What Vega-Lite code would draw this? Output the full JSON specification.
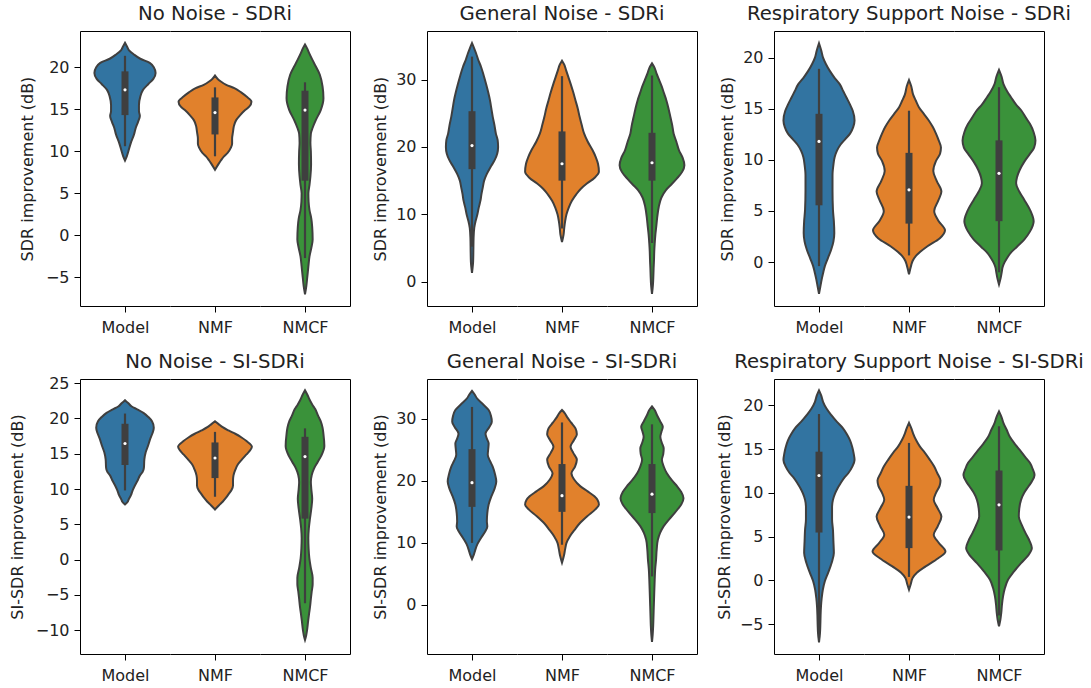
{
"$schema":"https://vega.github.io/schema/vega-lite/v6.json",
"usermeta":{"embedOptions":{"actions":false}},
"padding":{"left":9,"top":4,"right":5,"bottom":5},
"config":{
 "view":{"stroke":null},
 "font":"DejaVu Sans",
 "axis":{"grid":false,"domainColor":"#000","domainWidth":1,"tickColor":"#000","tickWidth":1,"tickSize":6,"labelFont":"DejaVu Sans","labelFontSize":16,"labelColor":"#222","labelPadding":5,"titleFont":"DejaVu Sans","titleFontSize":16,"titleFontWeight":"normal","titleColor":"#222","titlePadding":7},
 "title":{"font":"DejaVu Sans","fontSize":19.7,"fontWeight":"normal","color":"#222","anchor":"middle","frame":"group","offset":7}
},
"data":{"values":[
{"p":"a","m":"Model","v":22.9,"w":0},{"p":"a","m":"Model","v":22.4,"w":0.05},{"p":"a","m":"Model","v":22.0,"w":0.09},{"p":"a","m":"Model","v":21.5,"w":0.2},{"p":"a","m":"Model","v":21.0,"w":0.34},{"p":"a","m":"Model","v":20.5,"w":0.55},{"p":"a","m":"Model","v":20.0,"w":0.64},{"p":"a","m":"Model","v":19.3,"w":0.68},{"p":"a","m":"Model","v":18.6,"w":0.63},{"p":"a","m":"Model","v":18.0,"w":0.52},{"p":"a","m":"Model","v":17.3,"w":0.40},{"p":"a","m":"Model","v":16.5,"w":0.34},{"p":"a","m":"Model","v":15.5,"w":0.31},{"p":"a","m":"Model","v":14.8,"w":0.31},{"p":"a","m":"Model","v":14.2,"w":0.33},{"p":"a","m":"Model","v":13.5,"w":0.29},{"p":"a","m":"Model","v":12.8,"w":0.24},{"p":"a","m":"Model","v":12.0,"w":0.20},{"p":"a","m":"Model","v":11.0,"w":0.13},{"p":"a","m":"Model","v":10.0,"w":0.075},{"p":"a","m":"Model","v":9.4,"w":0.04},{"p":"a","m":"Model","v":8.9,"w":0},
{"p":"a","m":"NMF","v":19.0,"w":0},{"p":"a","m":"NMF","v":18.6,"w":0.06},{"p":"a","m":"NMF","v":18.3,"w":0.13},{"p":"a","m":"NMF","v":17.9,"w":0.25},{"p":"a","m":"NMF","v":17.5,"w":0.43},{"p":"a","m":"NMF","v":17.0,"w":0.58},{"p":"a","m":"NMF","v":16.5,"w":0.70},{"p":"a","m":"NMF","v":15.9,"w":0.81},{"p":"a","m":"NMF","v":15.3,"w":0.76},{"p":"a","m":"NMF","v":14.9,"w":0.67},{"p":"a","m":"NMF","v":14.3,"w":0.56},{"p":"a","m":"NMF","v":13.7,"w":0.47},{"p":"a","m":"NMF","v":13.0,"w":0.42},{"p":"a","m":"NMF","v":12.3,"w":0.40},{"p":"a","m":"NMF","v":11.5,"w":0.38},{"p":"a","m":"NMF","v":10.9,"w":0.38},{"p":"a","m":"NMF","v":10.4,"w":0.35},{"p":"a","m":"NMF","v":9.8,"w":0.28},{"p":"a","m":"NMF","v":9.4,"w":0.20},{"p":"a","m":"NMF","v":8.9,"w":0.13},{"p":"a","m":"NMF","v":8.5,"w":0.08},{"p":"a","m":"NMF","v":7.8,"w":0},
{"p":"a","m":"NMCF","v":22.7,"w":0},{"p":"a","m":"NMCF","v":22.2,"w":0.05},{"p":"a","m":"NMCF","v":21.7,"w":0.09},{"p":"a","m":"NMCF","v":20.5,"w":0.20},{"p":"a","m":"NMCF","v":19.1,"w":0.33},{"p":"a","m":"NMCF","v":17.7,"w":0.39},{"p":"a","m":"NMCF","v":16.3,"w":0.41},{"p":"a","m":"NMCF","v":14.9,"w":0.35},{"p":"a","m":"NMCF","v":13.7,"w":0.24},{"p":"a","m":"NMCF","v":12.8,"w":0.17},{"p":"a","m":"NMCF","v":12.1,"w":0.13},{"p":"a","m":"NMCF","v":11.0,"w":0.12},{"p":"a","m":"NMCF","v":10.0,"w":0.13},{"p":"a","m":"NMCF","v":8.5,"w":0.135},{"p":"a","m":"NMCF","v":7.0,"w":0.12},{"p":"a","m":"NMCF","v":6.0,"w":0.10},{"p":"a","m":"NMCF","v":5.0,"w":0.075},{"p":"a","m":"NMCF","v":4.0,"w":0.08},{"p":"a","m":"NMCF","v":3.0,"w":0.10},{"p":"a","m":"NMCF","v":2.0,"w":0.14},{"p":"a","m":"NMCF","v":1.0,"w":0.16},{"p":"a","m":"NMCF","v":-0.5,"w":0.17},{"p":"a","m":"NMCF","v":-1.5,"w":0.14},{"p":"a","m":"NMCF","v":-2.5,"w":0.10},{"p":"a","m":"NMCF","v":-3.7,"w":0.075},{"p":"a","m":"NMCF","v":-5.0,"w":0.05},{"p":"a","m":"NMCF","v":-6.0,"w":0.03},{"p":"a","m":"NMCF","v":-7.0,"w":0},
{"p":"b","m":"Model","v":35.4,"w":0},{"p":"b","m":"Model","v":34.6,"w":0.05},{"p":"b","m":"Model","v":33.9,"w":0.09},{"p":"b","m":"Model","v":32.9,"w":0.14},{"p":"b","m":"Model","v":31.9,"w":0.20},{"p":"b","m":"Model","v":30.6,"w":0.26},{"p":"b","m":"Model","v":29.4,"w":0.31},{"p":"b","m":"Model","v":28.1,"w":0.36},{"p":"b","m":"Model","v":26.9,"w":0.40},{"p":"b","m":"Model","v":25.7,"w":0.43},{"p":"b","m":"Model","v":24.5,"w":0.46},{"p":"b","m":"Model","v":23.2,"w":0.50},{"p":"b","m":"Model","v":22.0,"w":0.53},{"p":"b","m":"Model","v":21.0,"w":0.57},{"p":"b","m":"Model","v":20.0,"w":0.58},{"p":"b","m":"Model","v":19.0,"w":0.56},{"p":"b","m":"Model","v":18.0,"w":0.50},{"p":"b","m":"Model","v":17.0,"w":0.41},{"p":"b","m":"Model","v":16.0,"w":0.33},{"p":"b","m":"Model","v":15.0,"w":0.27},{"p":"b","m":"Model","v":14.0,"w":0.24},{"p":"b","m":"Model","v":13.0,"w":0.21},{"p":"b","m":"Model","v":12.1,"w":0.19},{"p":"b","m":"Model","v":11.0,"w":0.15},{"p":"b","m":"Model","v":10.0,"w":0.12},{"p":"b","m":"Model","v":9.0,"w":0.08},{"p":"b","m":"Model","v":8.0,"w":0.05},{"p":"b","m":"Model","v":6.5,"w":0.035},{"p":"b","m":"Model","v":4.5,"w":0.03},{"p":"b","m":"Model","v":3.0,"w":0.025},{"p":"b","m":"Model","v":1.3,"w":0},
{"p":"b","m":"NMF","v":32.8,"w":0},{"p":"b","m":"NMF","v":32.2,"w":0.05},{"p":"b","m":"NMF","v":31.4,"w":0.09},{"p":"b","m":"NMF","v":30.4,"w":0.14},{"p":"b","m":"NMF","v":29.4,"w":0.19},{"p":"b","m":"NMF","v":28.1,"w":0.25},{"p":"b","m":"NMF","v":26.9,"w":0.30},{"p":"b","m":"NMF","v":25.7,"w":0.35},{"p":"b","m":"NMF","v":24.5,"w":0.39},{"p":"b","m":"NMF","v":23.2,"w":0.44},{"p":"b","m":"NMF","v":22.0,"w":0.49},{"p":"b","m":"NMF","v":20.8,"w":0.57},{"p":"b","m":"NMF","v":19.5,"w":0.68},{"p":"b","m":"NMF","v":18.5,"w":0.75},{"p":"b","m":"NMF","v":17.5,"w":0.80},{"p":"b","m":"NMF","v":16.3,"w":0.82},{"p":"b","m":"NMF","v":15.4,"w":0.72},{"p":"b","m":"NMF","v":14.6,"w":0.56},{"p":"b","m":"NMF","v":13.8,"w":0.42},{"p":"b","m":"NMF","v":13.0,"w":0.32},{"p":"b","m":"NMF","v":12.0,"w":0.22},{"p":"b","m":"NMF","v":11.0,"w":0.15},{"p":"b","m":"NMF","v":10.0,"w":0.10},{"p":"b","m":"NMF","v":9.0,"w":0.07},{"p":"b","m":"NMF","v":8.0,"w":0.05},{"p":"b","m":"NMF","v":7.0,"w":0.035},{"p":"b","m":"NMF","v":5.9,"w":0},
{"p":"b","m":"NMCF","v":32.4,"w":0},{"p":"b","m":"NMCF","v":31.7,"w":0.06},{"p":"b","m":"NMCF","v":30.9,"w":0.10},{"p":"b","m":"NMCF","v":29.9,"w":0.16},{"p":"b","m":"NMCF","v":28.9,"w":0.22},{"p":"b","m":"NMCF","v":27.9,"w":0.27},{"p":"b","m":"NMCF","v":26.9,"w":0.32},{"p":"b","m":"NMCF","v":25.6,"w":0.37},{"p":"b","m":"NMCF","v":24.4,"w":0.41},{"p":"b","m":"NMCF","v":23.2,"w":0.45},{"p":"b","m":"NMCF","v":22.0,"w":0.48},{"p":"b","m":"NMCF","v":20.8,"w":0.54},{"p":"b","m":"NMCF","v":19.5,"w":0.60},{"p":"b","m":"NMCF","v":18.4,"w":0.68},{"p":"b","m":"NMCF","v":17.3,"w":0.72},{"p":"b","m":"NMCF","v":16.3,"w":0.67},{"p":"b","m":"NMCF","v":15.3,"w":0.55},{"p":"b","m":"NMCF","v":14.5,"w":0.44},{"p":"b","m":"NMCF","v":13.6,"w":0.31},{"p":"b","m":"NMCF","v":12.5,"w":0.21},{"p":"b","m":"NMCF","v":11.1,"w":0.15},{"p":"b","m":"NMCF","v":9.5,"w":0.115},{"p":"b","m":"NMCF","v":8.2,"w":0.095},{"p":"b","m":"NMCF","v":7.0,"w":0.075},{"p":"b","m":"NMCF","v":5.7,"w":0.06},{"p":"b","m":"NMCF","v":4.5,"w":0.05},{"p":"b","m":"NMCF","v":3.2,"w":0.044},{"p":"b","m":"NMCF","v":2.0,"w":0.036},{"p":"b","m":"NMCF","v":0.8,"w":0.03},{"p":"b","m":"NMCF","v":-0.5,"w":0.02},{"p":"b","m":"NMCF","v":-1.8,"w":0},
{"p":"c","m":"Model","v":21.4,"w":0},{"p":"c","m":"Model","v":20.7,"w":0.05},{"p":"c","m":"Model","v":20.0,"w":0.09},{"p":"c","m":"Model","v":19.4,"w":0.15},{"p":"c","m":"Model","v":18.7,"w":0.24},{"p":"c","m":"Model","v":18.0,"w":0.35},{"p":"c","m":"Model","v":17.4,"w":0.46},{"p":"c","m":"Model","v":16.7,"w":0.54},{"p":"c","m":"Model","v":16.1,"w":0.61},{"p":"c","m":"Model","v":15.4,"w":0.69},{"p":"c","m":"Model","v":14.8,"w":0.75},{"p":"c","m":"Model","v":13.85,"w":0.79},{"p":"c","m":"Model","v":13.2,"w":0.76},{"p":"c","m":"Model","v":12.56,"w":0.69},{"p":"c","m":"Model","v":12.0,"w":0.58},{"p":"c","m":"Model","v":11.5,"w":0.48},{"p":"c","m":"Model","v":10.9,"w":0.40},{"p":"c","m":"Model","v":10.3,"w":0.35},{"p":"c","m":"Model","v":9.5,"w":0.32},{"p":"c","m":"Model","v":8.5,"w":0.30},{"p":"c","m":"Model","v":7.0,"w":0.30},{"p":"c","m":"Model","v":5.1,"w":0.31},{"p":"c","m":"Model","v":4.0,"w":0.33},{"p":"c","m":"Model","v":2.85,"w":0.34},{"p":"c","m":"Model","v":2.0,"w":0.32},{"p":"c","m":"Model","v":1.2,"w":0.27},{"p":"c","m":"Model","v":0.4,"w":0.20},{"p":"c","m":"Model","v":-0.4,"w":0.13},{"p":"c","m":"Model","v":-1.1,"w":0.09},{"p":"c","m":"Model","v":-1.7,"w":0.06},{"p":"c","m":"Model","v":-2.4,"w":0.03},{"p":"c","m":"Model","v":-3.1,"w":0},
{"p":"c","m":"NMF","v":17.8,"w":0},{"p":"c","m":"NMF","v":17.2,"w":0.05},{"p":"c","m":"NMF","v":16.4,"w":0.09},{"p":"c","m":"NMF","v":15.8,"w":0.15},{"p":"c","m":"NMF","v":15.15,"w":0.22},{"p":"c","m":"NMF","v":14.5,"w":0.33},{"p":"c","m":"NMF","v":13.85,"w":0.44},{"p":"c","m":"NMF","v":13.2,"w":0.53},{"p":"c","m":"NMF","v":12.56,"w":0.60},{"p":"c","m":"NMF","v":11.9,"w":0.66},{"p":"c","m":"NMF","v":11.2,"w":0.71},{"p":"c","m":"NMF","v":10.6,"w":0.69},{"p":"c","m":"NMF","v":9.9,"w":0.60},{"p":"c","m":"NMF","v":8.9,"w":0.54},{"p":"c","m":"NMF","v":7.9,"w":0.62},{"p":"c","m":"NMF","v":6.9,"w":0.72},{"p":"c","m":"NMF","v":6.0,"w":0.65},{"p":"c","m":"NMF","v":5.0,"w":0.56},{"p":"c","m":"NMF","v":4.0,"w":0.66},{"p":"c","m":"NMF","v":3.1,"w":0.80},{"p":"c","m":"NMF","v":2.3,"w":0.68},{"p":"c","m":"NMF","v":1.55,"w":0.41},{"p":"c","m":"NMF","v":1.0,"w":0.25},{"p":"c","m":"NMF","v":0.58,"w":0.15},{"p":"c","m":"NMF","v":0.1,"w":0.08},{"p":"c","m":"NMF","v":-0.3,"w":0.05},{"p":"c","m":"NMF","v":-1.2,"w":0},
{"p":"c","m":"NMCF","v":18.8,"w":0},{"p":"c","m":"NMCF","v":18.1,"w":0.06},{"p":"c","m":"NMCF","v":17.4,"w":0.10},{"p":"c","m":"NMCF","v":16.7,"w":0.18},{"p":"c","m":"NMCF","v":16.1,"w":0.27},{"p":"c","m":"NMCF","v":15.4,"w":0.38},{"p":"c","m":"NMCF","v":14.8,"w":0.50},{"p":"c","m":"NMCF","v":14.1,"w":0.60},{"p":"c","m":"NMCF","v":13.5,"w":0.69},{"p":"c","m":"NMCF","v":12.7,"w":0.77},{"p":"c","m":"NMCF","v":11.9,"w":0.81},{"p":"c","m":"NMCF","v":11.2,"w":0.78},{"p":"c","m":"NMCF","v":10.6,"w":0.69},{"p":"c","m":"NMCF","v":9.8,"w":0.56},{"p":"c","m":"NMCF","v":9.0,"w":0.46},{"p":"c","m":"NMCF","v":8.3,"w":0.40},{"p":"c","m":"NMCF","v":7.7,"w":0.38},{"p":"c","m":"NMCF","v":6.9,"w":0.45},{"p":"c","m":"NMCF","v":6.1,"w":0.56},{"p":"c","m":"NMCF","v":5.0,"w":0.70},{"p":"c","m":"NMCF","v":4.0,"w":0.77},{"p":"c","m":"NMCF","v":3.0,"w":0.69},{"p":"c","m":"NMCF","v":2.2,"w":0.56},{"p":"c","m":"NMCF","v":1.5,"w":0.40},{"p":"c","m":"NMCF","v":0.9,"w":0.26},{"p":"c","m":"NMCF","v":0.4,"w":0.18},{"p":"c","m":"NMCF","v":-0.06,"w":0.12},{"p":"c","m":"NMCF","v":-0.5,"w":0.08},{"p":"c","m":"NMCF","v":-1.0,"w":0.06},{"p":"c","m":"NMCF","v":-1.6,"w":0.035},{"p":"c","m":"NMCF","v":-2.2,"w":0},
{"p":"d","m":"Model","v":22.6,"w":0},{"p":"d","m":"Model","v":22.2,"w":0.07},{"p":"d","m":"Model","v":21.7,"w":0.15},{"p":"d","m":"Model","v":21.3,"w":0.27},{"p":"d","m":"Model","v":20.8,"w":0.41},{"p":"d","m":"Model","v":20.2,"w":0.52},{"p":"d","m":"Model","v":19.6,"w":0.60},{"p":"d","m":"Model","v":18.7,"w":0.64},{"p":"d","m":"Model","v":17.9,"w":0.61},{"p":"d","m":"Model","v":17.1,"w":0.56},{"p":"d","m":"Model","v":16.1,"w":0.51},{"p":"d","m":"Model","v":15.2,"w":0.46},{"p":"d","m":"Model","v":14.2,"w":0.43},{"p":"d","m":"Model","v":13.0,"w":0.42},{"p":"d","m":"Model","v":12.4,"w":0.39},{"p":"d","m":"Model","v":11.9,"w":0.33},{"p":"d","m":"Model","v":11.2,"w":0.28},{"p":"d","m":"Model","v":10.5,"w":0.22},{"p":"d","m":"Model","v":9.8,"w":0.17},{"p":"d","m":"Model","v":9.1,"w":0.13},{"p":"d","m":"Model","v":8.5,"w":0.08},{"p":"d","m":"Model","v":8.2,"w":0.06},{"p":"d","m":"Model","v":7.8,"w":0},
{"p":"d","m":"NMF","v":19.6,"w":0},{"p":"d","m":"NMF","v":19.2,"w":0.08},{"p":"d","m":"NMF","v":18.8,"w":0.16},{"p":"d","m":"NMF","v":18.3,"w":0.30},{"p":"d","m":"NMF","v":17.8,"w":0.46},{"p":"d","m":"NMF","v":17.3,"w":0.59},{"p":"d","m":"NMF","v":16.8,"w":0.70},{"p":"d","m":"NMF","v":16.0,"w":0.82},{"p":"d","m":"NMF","v":15.4,"w":0.77},{"p":"d","m":"NMF","v":14.9,"w":0.70},{"p":"d","m":"NMF","v":14.2,"w":0.60},{"p":"d","m":"NMF","v":13.5,"w":0.51},{"p":"d","m":"NMF","v":12.7,"w":0.45},{"p":"d","m":"NMF","v":11.9,"w":0.41},{"p":"d","m":"NMF","v":11.2,"w":0.40},{"p":"d","m":"NMF","v":10.5,"w":0.40},{"p":"d","m":"NMF","v":9.9,"w":0.37},{"p":"d","m":"NMF","v":9.35,"w":0.31},{"p":"d","m":"NMF","v":8.8,"w":0.25},{"p":"d","m":"NMF","v":8.2,"w":0.17},{"p":"d","m":"NMF","v":7.7,"w":0.09},{"p":"d","m":"NMF","v":7.1,"w":0},
{"p":"d","m":"NMCF","v":24.0,"w":0},{"p":"d","m":"NMCF","v":23.4,"w":0.05},{"p":"d","m":"NMCF","v":22.7,"w":0.10},{"p":"d","m":"NMCF","v":22.0,"w":0.16},{"p":"d","m":"NMCF","v":21.3,"w":0.23},{"p":"d","m":"NMCF","v":20.4,"w":0.29},{"p":"d","m":"NMCF","v":19.6,"w":0.35},{"p":"d","m":"NMCF","v":18.7,"w":0.39},{"p":"d","m":"NMCF","v":17.8,"w":0.41},{"p":"d","m":"NMCF","v":16.1,"w":0.43},{"p":"d","m":"NMCF","v":14.7,"w":0.36},{"p":"d","m":"NMCF","v":13.8,"w":0.28},{"p":"d","m":"NMCF","v":12.9,"w":0.20},{"p":"d","m":"NMCF","v":12.0,"w":0.15},{"p":"d","m":"NMCF","v":11.0,"w":0.13},{"p":"d","m":"NMCF","v":10.0,"w":0.14},{"p":"d","m":"NMCF","v":8.6,"w":0.16},{"p":"d","m":"NMCF","v":7.2,"w":0.14},{"p":"d","m":"NMCF","v":5.8,"w":0.11},{"p":"d","m":"NMCF","v":4.4,"w":0.085},{"p":"d","m":"NMCF","v":3.0,"w":0.074},{"p":"d","m":"NMCF","v":1.6,"w":0.08},{"p":"d","m":"NMCF","v":0.2,"w":0.096},{"p":"d","m":"NMCF","v":-1.2,"w":0.13},{"p":"d","m":"NMCF","v":-2.6,"w":0.17},{"p":"d","m":"NMCF","v":-3.5,"w":0.17},{"p":"d","m":"NMCF","v":-4.5,"w":0.15},{"p":"d","m":"NMCF","v":-5.6,"w":0.13},{"p":"d","m":"NMCF","v":-6.8,"w":0.11},{"p":"d","m":"NMCF","v":-7.7,"w":0.09},{"p":"d","m":"NMCF","v":-8.7,"w":0.07},{"p":"d","m":"NMCF","v":-10.1,"w":0.044},{"p":"d","m":"NMCF","v":-10.8,"w":0.025},{"p":"d","m":"NMCF","v":-11.4,"w":0},
{"p":"e","m":"Model","v":34.5,"w":0},{"p":"e","m":"Model","v":33.9,"w":0.06},{"p":"e","m":"Model","v":33.3,"w":0.11},{"p":"e","m":"Model","v":32.3,"w":0.25},{"p":"e","m":"Model","v":31.4,"w":0.37},{"p":"e","m":"Model","v":30.5,"w":0.42},{"p":"e","m":"Model","v":29.5,"w":0.44},{"p":"e","m":"Model","v":28.6,"w":0.38},{"p":"e","m":"Model","v":27.6,"w":0.30},{"p":"e","m":"Model","v":26.8,"w":0.33},{"p":"e","m":"Model","v":26.0,"w":0.37},{"p":"e","m":"Model","v":25.1,"w":0.36},{"p":"e","m":"Model","v":24.2,"w":0.35},{"p":"e","m":"Model","v":23.2,"w":0.40},{"p":"e","m":"Model","v":22.3,"w":0.46},{"p":"e","m":"Model","v":21.1,"w":0.51},{"p":"e","m":"Model","v":19.9,"w":0.54},{"p":"e","m":"Model","v":18.7,"w":0.50},{"p":"e","m":"Model","v":17.5,"w":0.43},{"p":"e","m":"Model","v":16.2,"w":0.37},{"p":"e","m":"Model","v":14.8,"w":0.34},{"p":"e","m":"Model","v":13.5,"w":0.33},{"p":"e","m":"Model","v":12.6,"w":0.34},{"p":"e","m":"Model","v":11.8,"w":0.29},{"p":"e","m":"Model","v":10.8,"w":0.20},{"p":"e","m":"Model","v":9.8,"w":0.12},{"p":"e","m":"Model","v":8.8,"w":0.07},{"p":"e","m":"Model","v":8.2,"w":0.045},{"p":"e","m":"Model","v":7.4,"w":0},
{"p":"e","m":"NMF","v":31.4,"w":0},{"p":"e","m":"NMF","v":30.9,"w":0.06},{"p":"e","m":"NMF","v":30.3,"w":0.11},{"p":"e","m":"NMF","v":29.4,"w":0.20},{"p":"e","m":"NMF","v":28.45,"w":0.30},{"p":"e","m":"NMF","v":27.5,"w":0.33},{"p":"e","m":"NMF","v":26.5,"w":0.26},{"p":"e","m":"NMF","v":25.5,"w":0.19},{"p":"e","m":"NMF","v":24.5,"w":0.25},{"p":"e","m":"NMF","v":23.4,"w":0.33},{"p":"e","m":"NMF","v":22.3,"w":0.29},{"p":"e","m":"NMF","v":21.2,"w":0.21},{"p":"e","m":"NMF","v":20.2,"w":0.27},{"p":"e","m":"NMF","v":19.1,"w":0.41},{"p":"e","m":"NMF","v":18.3,"w":0.57},{"p":"e","m":"NMF","v":17.5,"w":0.72},{"p":"e","m":"NMF","v":16.9,"w":0.79},{"p":"e","m":"NMF","v":16.15,"w":0.82},{"p":"e","m":"NMF","v":15.4,"w":0.74},{"p":"e","m":"NMF","v":14.3,"w":0.56},{"p":"e","m":"NMF","v":13.2,"w":0.40},{"p":"e","m":"NMF","v":12.1,"w":0.28},{"p":"e","m":"NMF","v":11.0,"w":0.17},{"p":"e","m":"NMF","v":10.0,"w":0.10},{"p":"e","m":"NMF","v":9.0,"w":0.07},{"p":"e","m":"NMF","v":8.0,"w":0.045},{"p":"e","m":"NMF","v":6.8,"w":0},
{"p":"e","m":"NMCF","v":32.0,"w":0},{"p":"e","m":"NMCF","v":31.4,"w":0.06},{"p":"e","m":"NMCF","v":30.6,"w":0.11},{"p":"e","m":"NMCF","v":29.6,"w":0.18},{"p":"e","m":"NMCF","v":28.7,"w":0.24},{"p":"e","m":"NMCF","v":27.9,"w":0.21},{"p":"e","m":"NMCF","v":27.1,"w":0.185},{"p":"e","m":"NMCF","v":26.1,"w":0.22},{"p":"e","m":"NMCF","v":25.2,"w":0.26},{"p":"e","m":"NMCF","v":24.3,"w":0.25},{"p":"e","m":"NMCF","v":23.4,"w":0.22},{"p":"e","m":"NMCF","v":22.3,"w":0.26},{"p":"e","m":"NMCF","v":21.2,"w":0.33},{"p":"e","m":"NMCF","v":20.1,"w":0.44},{"p":"e","m":"NMCF","v":19.1,"w":0.56},{"p":"e","m":"NMCF","v":18.2,"w":0.65},{"p":"e","m":"NMCF","v":17.2,"w":0.70},{"p":"e","m":"NMCF","v":16.2,"w":0.65},{"p":"e","m":"NMCF","v":15.5,"w":0.58},{"p":"e","m":"NMCF","v":14.8,"w":0.50},{"p":"e","m":"NMCF","v":13.8,"w":0.38},{"p":"e","m":"NMCF","v":12.7,"w":0.26},{"p":"e","m":"NMCF","v":11.6,"w":0.18},{"p":"e","m":"NMCF","v":10.5,"w":0.13},{"p":"e","m":"NMCF","v":9.0,"w":0.105},{"p":"e","m":"NMCF","v":7.3,"w":0.09},{"p":"e","m":"NMCF","v":5.7,"w":0.07},{"p":"e","m":"NMCF","v":4.1,"w":0.06},{"p":"e","m":"NMCF","v":2.0,"w":0.05},{"p":"e","m":"NMCF","v":-0.2,"w":0.04},{"p":"e","m":"NMCF","v":-1.8,"w":0.033},{"p":"e","m":"NMCF","v":-3.4,"w":0.026},{"p":"e","m":"NMCF","v":-4.8,"w":0.015},{"p":"e","m":"NMCF","v":-5.95,"w":0},
{"p":"f","m":"Model","v":21.7,"w":0},{"p":"f","m":"Model","v":21.1,"w":0.05},{"p":"f","m":"Model","v":20.4,"w":0.09},{"p":"f","m":"Model","v":19.6,"w":0.17},{"p":"f","m":"Model","v":18.9,"w":0.27},{"p":"f","m":"Model","v":18.1,"w":0.40},{"p":"f","m":"Model","v":17.4,"w":0.53},{"p":"f","m":"Model","v":16.7,"w":0.62},{"p":"f","m":"Model","v":16.0,"w":0.69},{"p":"f","m":"Model","v":15.2,"w":0.74},{"p":"f","m":"Model","v":14.5,"w":0.77},{"p":"f","m":"Model","v":13.76,"w":0.79},{"p":"f","m":"Model","v":13.0,"w":0.74},{"p":"f","m":"Model","v":12.24,"w":0.65},{"p":"f","m":"Model","v":11.7,"w":0.56},{"p":"f","m":"Model","v":11.1,"w":0.48},{"p":"f","m":"Model","v":10.5,"w":0.41},{"p":"f","m":"Model","v":9.97,"w":0.36},{"p":"f","m":"Model","v":9.2,"w":0.31},{"p":"f","m":"Model","v":8.44,"w":0.29},{"p":"f","m":"Model","v":7.0,"w":0.29},{"p":"f","m":"Model","v":5.78,"w":0.31},{"p":"f","m":"Model","v":4.5,"w":0.32},{"p":"f","m":"Model","v":3.12,"w":0.33},{"p":"f","m":"Model","v":2.0,"w":0.28},{"p":"f","m":"Model","v":0.84,"w":0.20},{"p":"f","m":"Model","v":-0.1,"w":0.13},{"p":"f","m":"Model","v":-1.06,"w":0.085},{"p":"f","m":"Model","v":-2.0,"w":0.06},{"p":"f","m":"Model","v":-2.96,"w":0.044},{"p":"f","m":"Model","v":-4.0,"w":0.035},{"p":"f","m":"Model","v":-5.0,"w":0.03},{"p":"f","m":"Model","v":-6.0,"w":0.022},{"p":"f","m":"Model","v":-7.07,"w":0},
{"p":"f","m":"NMF","v":18.0,"w":0},{"p":"f","m":"NMF","v":17.4,"w":0.05},{"p":"f","m":"NMF","v":16.8,"w":0.09},{"p":"f","m":"NMF","v":16.0,"w":0.16},{"p":"f","m":"NMF","v":15.3,"w":0.24},{"p":"f","m":"NMF","v":14.6,"w":0.35},{"p":"f","m":"NMF","v":13.8,"w":0.46},{"p":"f","m":"NMF","v":13.0,"w":0.56},{"p":"f","m":"NMF","v":12.24,"w":0.63},{"p":"f","m":"NMF","v":11.4,"w":0.70},{"p":"f","m":"NMF","v":10.8,"w":0.68},{"p":"f","m":"NMF","v":10.0,"w":0.60},{"p":"f","m":"NMF","v":9.2,"w":0.55},{"p":"f","m":"NMF","v":8.3,"w":0.63},{"p":"f","m":"NMF","v":7.3,"w":0.72},{"p":"f","m":"NMF","v":6.2,"w":0.64},{"p":"f","m":"NMF","v":5.21,"w":0.55},{"p":"f","m":"NMF","v":4.3,"w":0.66},{"p":"f","m":"NMF","v":3.3,"w":0.81},{"p":"f","m":"NMF","v":2.5,"w":0.64},{"p":"f","m":"NMF","v":1.6,"w":0.37},{"p":"f","m":"NMF","v":0.9,"w":0.18},{"p":"f","m":"NMF","v":0.27,"w":0.08},{"p":"f","m":"NMF","v":-0.4,"w":0.04},{"p":"f","m":"NMF","v":-1.06,"w":0},
{"p":"f","m":"NMCF","v":19.3,"w":0},{"p":"f","m":"NMCF","v":18.6,"w":0.06},{"p":"f","m":"NMCF","v":17.95,"w":0.10},{"p":"f","m":"NMCF","v":17.2,"w":0.17},{"p":"f","m":"NMCF","v":16.4,"w":0.24},{"p":"f","m":"NMCF","v":15.6,"w":0.35},{"p":"f","m":"NMCF","v":14.9,"w":0.46},{"p":"f","m":"NMCF","v":14.1,"w":0.58},{"p":"f","m":"NMCF","v":13.4,"w":0.69},{"p":"f","m":"NMCF","v":12.7,"w":0.75},{"p":"f","m":"NMCF","v":12.05,"w":0.79},{"p":"f","m":"NMCF","v":11.3,"w":0.73},{"p":"f","m":"NMCF","v":10.7,"w":0.65},{"p":"f","m":"NMCF","v":10.0,"w":0.56},{"p":"f","m":"NMCF","v":9.2,"w":0.49},{"p":"f","m":"NMCF","v":8.2,"w":0.45},{"p":"f","m":"NMCF","v":7.3,"w":0.44},{"p":"f","m":"NMCF","v":6.3,"w":0.51},{"p":"f","m":"NMCF","v":5.4,"w":0.59},{"p":"f","m":"NMCF","v":4.5,"w":0.68},{"p":"f","m":"NMCF","v":3.7,"w":0.73},{"p":"f","m":"NMCF","v":2.8,"w":0.64},{"p":"f","m":"NMCF","v":1.98,"w":0.49},{"p":"f","m":"NMCF","v":1.0,"w":0.33},{"p":"f","m":"NMCF","v":0.08,"w":0.20},{"p":"f","m":"NMCF","v":-0.9,"w":0.13},{"p":"f","m":"NMCF","v":-1.82,"w":0.09},{"p":"f","m":"NMCF","v":-2.8,"w":0.065},{"p":"f","m":"NMCF","v":-3.72,"w":0.05},{"p":"f","m":"NMCF","v":-4.5,"w":0.03},{"p":"f","m":"NMCF","v":-5.24,"w":0},
{"p":"a","m":"Model","lo":10.6,"q1":14.3,"md":17.3,"q3":19.5,"hi":21.35},
{"p":"a","m":"NMF","lo":9.4,"q1":12.0,"md":14.6,"q3":16.4,"hi":17.6},
{"p":"a","m":"NMCF","lo":-2.7,"q1":6.5,"md":14.9,"q3":17.2,"hi":18.2},
{"p":"b","m":"Model","lo":5.2,"q1":16.7,"md":20.2,"q3":25.3,"hi":33.4},
{"p":"b","m":"NMF","lo":7.9,"q1":15.0,"md":17.5,"q3":22.3,"hi":30.5},
{"p":"b","m":"NMCF","lo":5.75,"q1":15.0,"md":17.65,"q3":22.1,"hi":30.6},
{"p":"c","m":"Model","lo":-0.4,"q1":5.55,"md":11.8,"q3":14.5,"hi":18.9},
{"p":"c","m":"NMF","lo":0.65,"q1":3.76,"md":7.06,"q3":10.68,"hi":14.8},
{"p":"c","m":"NMCF","lo":-1.0,"q1":4.0,"md":8.68,"q3":11.9,"hi":17.1},
{"p":"d","m":"Model","lo":9.8,"q1":13.4,"md":16.45,"q3":19.25,"hi":20.7},
{"p":"d","m":"NMF","lo":8.9,"q1":11.55,"md":14.4,"q3":16.6,"hi":18.1},
{"p":"d","m":"NMCF","lo":-6.2,"q1":5.8,"md":14.6,"q3":17.4,"hi":18.6},
{"p":"e","m":"Model","lo":10.0,"q1":15.8,"md":19.7,"q3":25.1,"hi":31.9},
{"p":"e","m":"NMF","lo":9.7,"q1":15.0,"md":17.6,"q3":22.7,"hi":29.4},
{"p":"e","m":"NMCF","lo":4.6,"q1":14.8,"md":17.85,"q3":22.7,"hi":29.1},
{"p":"f","m":"Model","lo":-6.5,"q1":5.47,"md":11.98,"q3":14.7,"hi":19.0},
{"p":"f","m":"NMF","lo":0.4,"q1":3.69,"md":7.23,"q3":10.8,"hi":15.7},
{"p":"f","m":"NMCF","lo":-4.0,"q1":3.42,"md":8.63,"q3":12.55,"hi":17.6}
]},
"columns":11,
"spacing":{"row":73,"column":0},
"bounds":"flush",
"concat":[
{"width":90,"height":275,"transform":[{"filter":"datum.p==='a'&&datum.m==='Model'"}],"resolve":{"axis":{"x":"independent","y":"independent"}},"layer":[
 {"transform":[{"filter":{"field":"w","valid":true}}],"mark":{"type":"area","orient":"horizontal","interpolate":"monotone","fill":"#3274a1","fillOpacity":1,"stroke":"#3f3f3f","strokeWidth":2},
  "encoding":{"y":{"field":"v","type":"quantitative","scale":{"domain":[-8.4,24.3],"nice":false,"zero":false},"axis":{"orient":"left","values":[-5,0,5,10,15,20],"title":"SDR improvement (dB)","titlePadding":10}},
   "x":{"field":"w","type":"quantitative","stack":"center","scale":{"domain":[-0.16,0.84],"nice":false,"zero":false},"axis":{"orient":"bottom","values":[0.34],"labels":false,"title":"Model"}}}},
 {"transform":[{"filter":{"field":"q1","valid":true}}],"mark":{"type":"rule","color":"#3f3f3f","strokeWidth":2.2},"encoding":{"x":{"datum":0.34,"type":"quantitative","axis":{"orient":"top","labels":false,"ticks":false,"title":null}},"y":{"field":"lo","type":"quantitative","axis":null},"y2":{"field":"hi"}}},
 {"transform":[{"filter":{"field":"q1","valid":true}}],"mark":{"type":"rule","color":"#3f3f3f","strokeWidth":7,"strokeCap":"butt"},"encoding":{"x":{"datum":0.34,"type":"quantitative","axis":null},"y":{"field":"q1","type":"quantitative","axis":null},"y2":{"field":"q3"}}},
 {"transform":[{"filter":{"field":"q1","valid":true}}],"mark":{"type":"point","filled":true,"color":"white","opacity":1,"size":10},"encoding":{"x":{"datum":0.34,"type":"quantitative","axis":null},"y":{"field":"md","type":"quantitative","axis":null}}}]},
{"width":90,"height":275,"title":"No Noise - SDRi","transform":[{"filter":"datum.p==='a'&&datum.m==='NMF'"}],"resolve":{"axis":{"x":"independent","y":"independent"}},"layer":[
 {"transform":[{"filter":{"field":"w","valid":true}}],"mark":{"type":"area","orient":"horizontal","interpolate":"monotone","fill":"#e1812c","fillOpacity":1,"stroke":"#3f3f3f","strokeWidth":2},
  "encoding":{"y":{"field":"v","type":"quantitative","scale":{"domain":[-8.4,24.3],"nice":false,"zero":false},"axis":null},
   "x":{"field":"w","type":"quantitative","stack":"center","scale":{"domain":[-0.095,0.905],"nice":false,"zero":false},"axis":{"orient":"bottom","values":[0.405],"labels":false,"title":"NMF"}}}},
 {"transform":[{"filter":{"field":"q1","valid":true}}],"mark":{"type":"rule","color":"#3f3f3f","strokeWidth":2.2},"encoding":{"x":{"datum":0.405,"type":"quantitative","axis":{"orient":"top","labels":false,"ticks":false,"title":null}},"y":{"field":"lo","type":"quantitative","axis":null},"y2":{"field":"hi"}}},
 {"transform":[{"filter":{"field":"q1","valid":true}}],"mark":{"type":"rule","color":"#3f3f3f","strokeWidth":7,"strokeCap":"butt"},"encoding":{"x":{"datum":0.405,"type":"quantitative","axis":null},"y":{"field":"q1","type":"quantitative","axis":null},"y2":{"field":"q3"}}},
 {"transform":[{"filter":{"field":"q1","valid":true}}],"mark":{"type":"point","filled":true,"color":"white","opacity":1,"size":10},"encoding":{"x":{"datum":0.405,"type":"quantitative","axis":null},"y":{"field":"md","type":"quantitative","axis":null}}}]},
{"width":90,"height":275,"transform":[{"filter":"datum.p==='a'&&datum.m==='NMCF'"}],"resolve":{"axis":{"x":"independent","y":"independent"}},"layer":[
 {"transform":[{"filter":{"field":"w","valid":true}}],"mark":{"type":"area","orient":"horizontal","interpolate":"monotone","fill":"#3a923a","fillOpacity":1,"stroke":"#3f3f3f","strokeWidth":2},
  "encoding":{"y":{"field":"v","type":"quantitative","scale":{"domain":[-8.4,24.3],"nice":false,"zero":false},"axis":{"orient":"right","labels":false,"ticks":false,"title":null}},
   "x":{"field":"w","type":"quantitative","stack":"center","scale":{"domain":[-0.295,0.705],"nice":false,"zero":false},"axis":{"orient":"bottom","values":[0.205],"labels":false,"title":"NMCF"}}}},
 {"transform":[{"filter":{"field":"q1","valid":true}}],"mark":{"type":"rule","color":"#3f3f3f","strokeWidth":2.2},"encoding":{"x":{"datum":0.205,"type":"quantitative","axis":{"orient":"top","labels":false,"ticks":false,"title":null}},"y":{"field":"lo","type":"quantitative","axis":null},"y2":{"field":"hi"}}},
 {"transform":[{"filter":{"field":"q1","valid":true}}],"mark":{"type":"rule","color":"#3f3f3f","strokeWidth":7,"strokeCap":"butt"},"encoding":{"x":{"datum":0.205,"type":"quantitative","axis":null},"y":{"field":"q1","type":"quantitative","axis":null},"y2":{"field":"q3"}}},
 {"transform":[{"filter":{"field":"q1","valid":true}}],"mark":{"type":"point","filled":true,"color":"white","opacity":1,"size":10},"encoding":{"x":{"datum":0.205,"type":"quantitative","axis":null},"y":{"field":"md","type":"quantitative","axis":null}}}]},
{"width":77,"height":275,"transform":[{"filter":"false"}],"mark":{"type":"point","opacity":0},"encoding":{}},
{"width":90,"height":275,"transform":[{"filter":"datum.p==='b'&&datum.m==='Model'"}],"resolve":{"axis":{"x":"independent","y":"independent"}},"layer":[
 {"transform":[{"filter":{"field":"w","valid":true}}],"mark":{"type":"area","orient":"horizontal","interpolate":"monotone","fill":"#3274a1","fillOpacity":1,"stroke":"#3f3f3f","strokeWidth":2},
  "encoding":{"y":{"field":"v","type":"quantitative","scale":{"domain":[-3.6,37.2],"nice":false,"zero":false},"axis":{"orient":"left","values":[0,10,20,30],"title":"SDR improvement (dB)"}},
   "x":{"field":"w","type":"quantitative","stack":"center","scale":{"domain":[-0.21,0.79],"nice":false,"zero":false},"axis":{"orient":"bottom","values":[0.29],"labels":false,"title":"Model"}}}},
 {"transform":[{"filter":{"field":"q1","valid":true}}],"mark":{"type":"rule","color":"#3f3f3f","strokeWidth":2.2},"encoding":{"x":{"datum":0.29,"type":"quantitative","axis":{"orient":"top","labels":false,"ticks":false,"title":null}},"y":{"field":"lo","type":"quantitative","axis":null},"y2":{"field":"hi"}}},
 {"transform":[{"filter":{"field":"q1","valid":true}}],"mark":{"type":"rule","color":"#3f3f3f","strokeWidth":7,"strokeCap":"butt"},"encoding":{"x":{"datum":0.29,"type":"quantitative","axis":null},"y":{"field":"q1","type":"quantitative","axis":null},"y2":{"field":"q3"}}},
 {"transform":[{"filter":{"field":"q1","valid":true}}],"mark":{"type":"point","filled":true,"color":"white","opacity":1,"size":10},"encoding":{"x":{"datum":0.29,"type":"quantitative","axis":null},"y":{"field":"md","type":"quantitative","axis":null}}}]},
{"width":90,"height":275,"title":"General Noise - SDRi","transform":[{"filter":"datum.p==='b'&&datum.m==='NMF'"}],"resolve":{"axis":{"x":"independent","y":"independent"}},"layer":[
 {"transform":[{"filter":{"field":"w","valid":true}}],"mark":{"type":"area","orient":"horizontal","interpolate":"monotone","fill":"#e1812c","fillOpacity":1,"stroke":"#3f3f3f","strokeWidth":2},
  "encoding":{"y":{"field":"v","type":"quantitative","scale":{"domain":[-3.6,37.2],"nice":false,"zero":false},"axis":null},
   "x":{"field":"w","type":"quantitative","stack":"center","scale":{"domain":[-0.09,0.91],"nice":false,"zero":false},"axis":{"orient":"bottom","values":[0.41],"labels":false,"title":"NMF"}}}},
 {"transform":[{"filter":{"field":"q1","valid":true}}],"mark":{"type":"rule","color":"#3f3f3f","strokeWidth":2.2},"encoding":{"x":{"datum":0.41,"type":"quantitative","axis":{"orient":"top","labels":false,"ticks":false,"title":null}},"y":{"field":"lo","type":"quantitative","axis":null},"y2":{"field":"hi"}}},
 {"transform":[{"filter":{"field":"q1","valid":true}}],"mark":{"type":"rule","color":"#3f3f3f","strokeWidth":7,"strokeCap":"butt"},"encoding":{"x":{"datum":0.41,"type":"quantitative","axis":null},"y":{"field":"q1","type":"quantitative","axis":null},"y2":{"field":"q3"}}},
 {"transform":[{"filter":{"field":"q1","valid":true}}],"mark":{"type":"point","filled":true,"color":"white","opacity":1,"size":10},"encoding":{"x":{"datum":0.41,"type":"quantitative","axis":null},"y":{"field":"md","type":"quantitative","axis":null}}}]},
{"width":90,"height":275,"transform":[{"filter":"datum.p==='b'&&datum.m==='NMCF'"}],"resolve":{"axis":{"x":"independent","y":"independent"}},"layer":[
 {"transform":[{"filter":{"field":"w","valid":true}}],"mark":{"type":"area","orient":"horizontal","interpolate":"monotone","fill":"#3a923a","fillOpacity":1,"stroke":"#3f3f3f","strokeWidth":2},
  "encoding":{"y":{"field":"v","type":"quantitative","scale":{"domain":[-3.6,37.2],"nice":false,"zero":false},"axis":{"orient":"right","labels":false,"ticks":false,"title":null}},
   "x":{"field":"w","type":"quantitative","stack":"center","scale":{"domain":[-0.14,0.86],"nice":false,"zero":false},"axis":{"orient":"bottom","values":[0.36],"labels":false,"title":"NMCF"}}}},
 {"transform":[{"filter":{"field":"q1","valid":true}}],"mark":{"type":"rule","color":"#3f3f3f","strokeWidth":2.2},"encoding":{"x":{"datum":0.36,"type":"quantitative","axis":{"orient":"top","labels":false,"ticks":false,"title":null}},"y":{"field":"lo","type":"quantitative","axis":null},"y2":{"field":"hi"}}},
 {"transform":[{"filter":{"field":"q1","valid":true}}],"mark":{"type":"rule","color":"#3f3f3f","strokeWidth":7,"strokeCap":"butt"},"encoding":{"x":{"datum":0.36,"type":"quantitative","axis":null},"y":{"field":"q1","type":"quantitative","axis":null},"y2":{"field":"q3"}}},
 {"transform":[{"filter":{"field":"q1","valid":true}}],"mark":{"type":"point","filled":true,"color":"white","opacity":1,"size":10},"encoding":{"x":{"datum":0.36,"type":"quantitative","axis":null},"y":{"field":"md","type":"quantitative","axis":null}}}]},
{"width":77,"height":275,"transform":[{"filter":"false"}],"mark":{"type":"point","opacity":0},"encoding":{}},
{"width":90,"height":275,"transform":[{"filter":"datum.p==='c'&&datum.m==='Model'"}],"resolve":{"axis":{"x":"independent","y":"independent"}},"layer":[
 {"transform":[{"filter":{"field":"w","valid":true}}],"mark":{"type":"area","orient":"horizontal","interpolate":"monotone","fill":"#3274a1","fillOpacity":1,"stroke":"#3f3f3f","strokeWidth":2},
  "encoding":{"y":{"field":"v","type":"quantitative","scale":{"domain":[-4.3,22.6],"nice":false,"zero":false},"axis":{"orient":"left","values":[0,5,10,15,20],"title":"SDR improvement (dB)"}},
   "x":{"field":"w","type":"quantitative","stack":"center","scale":{"domain":[-0.105,0.895],"nice":false,"zero":false},"axis":{"orient":"bottom","values":[0.395],"labels":false,"title":"Model"}}}},
 {"transform":[{"filter":{"field":"q1","valid":true}}],"mark":{"type":"rule","color":"#3f3f3f","strokeWidth":2.2},"encoding":{"x":{"datum":0.395,"type":"quantitative","axis":{"orient":"top","labels":false,"ticks":false,"title":null}},"y":{"field":"lo","type":"quantitative","axis":null},"y2":{"field":"hi"}}},
 {"transform":[{"filter":{"field":"q1","valid":true}}],"mark":{"type":"rule","color":"#3f3f3f","strokeWidth":7,"strokeCap":"butt"},"encoding":{"x":{"datum":0.395,"type":"quantitative","axis":null},"y":{"field":"q1","type":"quantitative","axis":null},"y2":{"field":"q3"}}},
 {"transform":[{"filter":{"field":"q1","valid":true}}],"mark":{"type":"point","filled":true,"color":"white","opacity":1,"size":10},"encoding":{"x":{"datum":0.395,"type":"quantitative","axis":null},"y":{"field":"md","type":"quantitative","axis":null}}}]},
{"width":90,"height":275,"title":"Respiratory Support Noise - SDRi","transform":[{"filter":"datum.p==='c'&&datum.m==='NMF'"}],"resolve":{"axis":{"x":"independent","y":"independent"}},"layer":[
 {"transform":[{"filter":{"field":"w","valid":true}}],"mark":{"type":"area","orient":"horizontal","interpolate":"monotone","fill":"#e1812c","fillOpacity":1,"stroke":"#3f3f3f","strokeWidth":2},
  "encoding":{"y":{"field":"v","type":"quantitative","scale":{"domain":[-4.3,22.6],"nice":false,"zero":false},"axis":null},
   "x":{"field":"w","type":"quantitative","stack":"center","scale":{"domain":[-0.1,0.9],"nice":false,"zero":false},"axis":{"orient":"bottom","values":[0.4],"labels":false,"title":"NMF"}}}},
 {"transform":[{"filter":{"field":"q1","valid":true}}],"mark":{"type":"rule","color":"#3f3f3f","strokeWidth":2.2},"encoding":{"x":{"datum":0.4,"type":"quantitative","axis":{"orient":"top","labels":false,"ticks":false,"title":null}},"y":{"field":"lo","type":"quantitative","axis":null},"y2":{"field":"hi"}}},
 {"transform":[{"filter":{"field":"q1","valid":true}}],"mark":{"type":"rule","color":"#3f3f3f","strokeWidth":7,"strokeCap":"butt"},"encoding":{"x":{"datum":0.4,"type":"quantitative","axis":null},"y":{"field":"q1","type":"quantitative","axis":null},"y2":{"field":"q3"}}},
 {"transform":[{"filter":{"field":"q1","valid":true}}],"mark":{"type":"point","filled":true,"color":"white","opacity":1,"size":10},"encoding":{"x":{"datum":0.4,"type":"quantitative","axis":null},"y":{"field":"md","type":"quantitative","axis":null}}}]},
{"width":90,"height":275,"transform":[{"filter":"datum.p==='c'&&datum.m==='NMCF'"}],"resolve":{"axis":{"x":"independent","y":"independent"}},"layer":[
 {"transform":[{"filter":{"field":"w","valid":true}}],"mark":{"type":"area","orient":"horizontal","interpolate":"monotone","fill":"#3a923a","fillOpacity":1,"stroke":"#3f3f3f","strokeWidth":2},
  "encoding":{"y":{"field":"v","type":"quantitative","scale":{"domain":[-4.3,22.6],"nice":false,"zero":false},"axis":{"orient":"right","labels":false,"ticks":false,"title":null}},
   "x":{"field":"w","type":"quantitative","stack":"center","scale":{"domain":[-0.095,0.905],"nice":false,"zero":false},"axis":{"orient":"bottom","values":[0.405],"labels":false,"title":"NMCF"}}}},
 {"transform":[{"filter":{"field":"q1","valid":true}}],"mark":{"type":"rule","color":"#3f3f3f","strokeWidth":2.2},"encoding":{"x":{"datum":0.405,"type":"quantitative","axis":{"orient":"top","labels":false,"ticks":false,"title":null}},"y":{"field":"lo","type":"quantitative","axis":null},"y2":{"field":"hi"}}},
 {"transform":[{"filter":{"field":"q1","valid":true}}],"mark":{"type":"rule","color":"#3f3f3f","strokeWidth":7,"strokeCap":"butt"},"encoding":{"x":{"datum":0.405,"type":"quantitative","axis":null},"y":{"field":"q1","type":"quantitative","axis":null},"y2":{"field":"q3"}}},
 {"transform":[{"filter":{"field":"q1","valid":true}}],"mark":{"type":"point","filled":true,"color":"white","opacity":1,"size":10},"encoding":{"x":{"datum":0.405,"type":"quantitative","axis":null},"y":{"field":"md","type":"quantitative","axis":null}}}]},
{"width":90,"height":275,"transform":[{"filter":"datum.p==='d'&&datum.m==='Model'"}],"resolve":{"axis":{"x":"independent","y":"independent"}},"layer":[
 {"transform":[{"filter":{"field":"w","valid":true}}],"mark":{"type":"area","orient":"horizontal","interpolate":"monotone","fill":"#3274a1","fillOpacity":1,"stroke":"#3f3f3f","strokeWidth":2},
  "encoding":{"y":{"field":"v","type":"quantitative","scale":{"domain":[-13.4,25.6],"nice":false,"zero":false},"axis":{"orient":"left","values":[-10,-5,0,5,10,15,20,25],"title":"SI-SDR improvement (dB)","titlePadding":10}},
   "x":{"field":"w","type":"quantitative","stack":"center","scale":{"domain":[-0.18,0.82],"nice":false,"zero":false},"axis":{"orient":"bottom","values":[0.32],"labels":false,"title":"Model"}}}},
 {"transform":[{"filter":{"field":"q1","valid":true}}],"mark":{"type":"rule","color":"#3f3f3f","strokeWidth":2.2},"encoding":{"x":{"datum":0.32,"type":"quantitative","axis":{"orient":"top","labels":false,"ticks":false,"title":null}},"y":{"field":"lo","type":"quantitative","axis":null},"y2":{"field":"hi"}}},
 {"transform":[{"filter":{"field":"q1","valid":true}}],"mark":{"type":"rule","color":"#3f3f3f","strokeWidth":7,"strokeCap":"butt"},"encoding":{"x":{"datum":0.32,"type":"quantitative","axis":null},"y":{"field":"q1","type":"quantitative","axis":null},"y2":{"field":"q3"}}},
 {"transform":[{"filter":{"field":"q1","valid":true}}],"mark":{"type":"point","filled":true,"color":"white","opacity":1,"size":10},"encoding":{"x":{"datum":0.32,"type":"quantitative","axis":null},"y":{"field":"md","type":"quantitative","axis":null}}}]},
{"width":90,"height":275,"title":"No Noise - SI-SDRi","transform":[{"filter":"datum.p==='d'&&datum.m==='NMF'"}],"resolve":{"axis":{"x":"independent","y":"independent"}},"layer":[
 {"transform":[{"filter":{"field":"w","valid":true}}],"mark":{"type":"area","orient":"horizontal","interpolate":"monotone","fill":"#e1812c","fillOpacity":1,"stroke":"#3f3f3f","strokeWidth":2},
  "encoding":{"y":{"field":"v","type":"quantitative","scale":{"domain":[-13.4,25.6],"nice":false,"zero":false},"axis":null},
   "x":{"field":"w","type":"quantitative","stack":"center","scale":{"domain":[-0.09,0.91],"nice":false,"zero":false},"axis":{"orient":"bottom","values":[0.41],"labels":false,"title":"NMF"}}}},
 {"transform":[{"filter":{"field":"q1","valid":true}}],"mark":{"type":"rule","color":"#3f3f3f","strokeWidth":2.2},"encoding":{"x":{"datum":0.41,"type":"quantitative","axis":{"orient":"top","labels":false,"ticks":false,"title":null}},"y":{"field":"lo","type":"quantitative","axis":null},"y2":{"field":"hi"}}},
 {"transform":[{"filter":{"field":"q1","valid":true}}],"mark":{"type":"rule","color":"#3f3f3f","strokeWidth":7,"strokeCap":"butt"},"encoding":{"x":{"datum":0.41,"type":"quantitative","axis":null},"y":{"field":"q1","type":"quantitative","axis":null},"y2":{"field":"q3"}}},
 {"transform":[{"filter":{"field":"q1","valid":true}}],"mark":{"type":"point","filled":true,"color":"white","opacity":1,"size":10},"encoding":{"x":{"datum":0.41,"type":"quantitative","axis":null},"y":{"field":"md","type":"quantitative","axis":null}}}]},
{"width":90,"height":275,"transform":[{"filter":"datum.p==='d'&&datum.m==='NMCF'"}],"resolve":{"axis":{"x":"independent","y":"independent"}},"layer":[
 {"transform":[{"filter":{"field":"w","valid":true}}],"mark":{"type":"area","orient":"horizontal","interpolate":"monotone","fill":"#3a923a","fillOpacity":1,"stroke":"#3f3f3f","strokeWidth":2},
  "encoding":{"y":{"field":"v","type":"quantitative","scale":{"domain":[-13.4,25.6],"nice":false,"zero":false},"axis":{"orient":"right","labels":false,"ticks":false,"title":null}},
   "x":{"field":"w","type":"quantitative","stack":"center","scale":{"domain":[-0.285,0.715],"nice":false,"zero":false},"axis":{"orient":"bottom","values":[0.215],"labels":false,"title":"NMCF"}}}},
 {"transform":[{"filter":{"field":"q1","valid":true}}],"mark":{"type":"rule","color":"#3f3f3f","strokeWidth":2.2},"encoding":{"x":{"datum":0.215,"type":"quantitative","axis":{"orient":"top","labels":false,"ticks":false,"title":null}},"y":{"field":"lo","type":"quantitative","axis":null},"y2":{"field":"hi"}}},
 {"transform":[{"filter":{"field":"q1","valid":true}}],"mark":{"type":"rule","color":"#3f3f3f","strokeWidth":7,"strokeCap":"butt"},"encoding":{"x":{"datum":0.215,"type":"quantitative","axis":null},"y":{"field":"q1","type":"quantitative","axis":null},"y2":{"field":"q3"}}},
 {"transform":[{"filter":{"field":"q1","valid":true}}],"mark":{"type":"point","filled":true,"color":"white","opacity":1,"size":10},"encoding":{"x":{"datum":0.215,"type":"quantitative","axis":null},"y":{"field":"md","type":"quantitative","axis":null}}}]},
{"width":77,"height":275,"transform":[{"filter":"false"}],"mark":{"type":"point","opacity":0},"encoding":{}},
{"width":90,"height":275,"transform":[{"filter":"datum.p==='e'&&datum.m==='Model'"}],"resolve":{"axis":{"x":"independent","y":"independent"}},"layer":[
 {"transform":[{"filter":{"field":"w","valid":true}}],"mark":{"type":"area","orient":"horizontal","interpolate":"monotone","fill":"#3274a1","fillOpacity":1,"stroke":"#3f3f3f","strokeWidth":2},
  "encoding":{"y":{"field":"v","type":"quantitative","scale":{"domain":[-7.9,36.4],"nice":false,"zero":false},"axis":{"orient":"left","values":[0,10,20,30],"title":"SI-SDR improvement (dB)"}},
   "x":{"field":"w","type":"quantitative","stack":"center","scale":{"domain":[-0.23,0.77],"nice":false,"zero":false},"axis":{"orient":"bottom","values":[0.27],"labels":false,"title":"Model"}}}},
 {"transform":[{"filter":{"field":"q1","valid":true}}],"mark":{"type":"rule","color":"#3f3f3f","strokeWidth":2.2},"encoding":{"x":{"datum":0.27,"type":"quantitative","axis":{"orient":"top","labels":false,"ticks":false,"title":null}},"y":{"field":"lo","type":"quantitative","axis":null},"y2":{"field":"hi"}}},
 {"transform":[{"filter":{"field":"q1","valid":true}}],"mark":{"type":"rule","color":"#3f3f3f","strokeWidth":7,"strokeCap":"butt"},"encoding":{"x":{"datum":0.27,"type":"quantitative","axis":null},"y":{"field":"q1","type":"quantitative","axis":null},"y2":{"field":"q3"}}},
 {"transform":[{"filter":{"field":"q1","valid":true}}],"mark":{"type":"point","filled":true,"color":"white","opacity":1,"size":10},"encoding":{"x":{"datum":0.27,"type":"quantitative","axis":null},"y":{"field":"md","type":"quantitative","axis":null}}}]},
{"width":90,"height":275,"title":"General Noise - SI-SDRi","transform":[{"filter":"datum.p==='e'&&datum.m==='NMF'"}],"resolve":{"axis":{"x":"independent","y":"independent"}},"layer":[
 {"transform":[{"filter":{"field":"w","valid":true}}],"mark":{"type":"area","orient":"horizontal","interpolate":"monotone","fill":"#e1812c","fillOpacity":1,"stroke":"#3f3f3f","strokeWidth":2},
  "encoding":{"y":{"field":"v","type":"quantitative","scale":{"domain":[-7.9,36.4],"nice":false,"zero":false},"axis":null},
   "x":{"field":"w","type":"quantitative","stack":"center","scale":{"domain":[-0.09,0.91],"nice":false,"zero":false},"axis":{"orient":"bottom","values":[0.41],"labels":false,"title":"NMF"}}}},
 {"transform":[{"filter":{"field":"q1","valid":true}}],"mark":{"type":"rule","color":"#3f3f3f","strokeWidth":2.2},"encoding":{"x":{"datum":0.41,"type":"quantitative","axis":{"orient":"top","labels":false,"ticks":false,"title":null}},"y":{"field":"lo","type":"quantitative","axis":null},"y2":{"field":"hi"}}},
 {"transform":[{"filter":{"field":"q1","valid":true}}],"mark":{"type":"rule","color":"#3f3f3f","strokeWidth":7,"strokeCap":"butt"},"encoding":{"x":{"datum":0.41,"type":"quantitative","axis":null},"y":{"field":"q1","type":"quantitative","axis":null},"y2":{"field":"q3"}}},
 {"transform":[{"filter":{"field":"q1","valid":true}}],"mark":{"type":"point","filled":true,"color":"white","opacity":1,"size":10},"encoding":{"x":{"datum":0.41,"type":"quantitative","axis":null},"y":{"field":"md","type":"quantitative","axis":null}}}]},
{"width":90,"height":275,"transform":[{"filter":"datum.p==='e'&&datum.m==='NMCF'"}],"resolve":{"axis":{"x":"independent","y":"independent"}},"layer":[
 {"transform":[{"filter":{"field":"w","valid":true}}],"mark":{"type":"area","orient":"horizontal","interpolate":"monotone","fill":"#3a923a","fillOpacity":1,"stroke":"#3f3f3f","strokeWidth":2},
  "encoding":{"y":{"field":"v","type":"quantitative","scale":{"domain":[-7.9,36.4],"nice":false,"zero":false},"axis":{"orient":"right","labels":false,"ticks":false,"title":null}},
   "x":{"field":"w","type":"quantitative","stack":"center","scale":{"domain":[-0.15,0.85],"nice":false,"zero":false},"axis":{"orient":"bottom","values":[0.35],"labels":false,"title":"NMCF"}}}},
 {"transform":[{"filter":{"field":"q1","valid":true}}],"mark":{"type":"rule","color":"#3f3f3f","strokeWidth":2.2},"encoding":{"x":{"datum":0.35,"type":"quantitative","axis":{"orient":"top","labels":false,"ticks":false,"title":null}},"y":{"field":"lo","type":"quantitative","axis":null},"y2":{"field":"hi"}}},
 {"transform":[{"filter":{"field":"q1","valid":true}}],"mark":{"type":"rule","color":"#3f3f3f","strokeWidth":7,"strokeCap":"butt"},"encoding":{"x":{"datum":0.35,"type":"quantitative","axis":null},"y":{"field":"q1","type":"quantitative","axis":null},"y2":{"field":"q3"}}},
 {"transform":[{"filter":{"field":"q1","valid":true}}],"mark":{"type":"point","filled":true,"color":"white","opacity":1,"size":10},"encoding":{"x":{"datum":0.35,"type":"quantitative","axis":null},"y":{"field":"md","type":"quantitative","axis":null}}}]},
{"width":77,"height":275,"transform":[{"filter":"false"}],"mark":{"type":"point","opacity":0},"encoding":{}},
{"width":90,"height":275,"transform":[{"filter":"datum.p==='f'&&datum.m==='Model'"}],"resolve":{"axis":{"x":"independent","y":"independent"}},"layer":[
 {"transform":[{"filter":{"field":"w","valid":true}}],"mark":{"type":"area","orient":"horizontal","interpolate":"monotone","fill":"#3274a1","fillOpacity":1,"stroke":"#3f3f3f","strokeWidth":2},
  "encoding":{"y":{"field":"v","type":"quantitative","scale":{"domain":[-8.4,23.0],"nice":false,"zero":false},"axis":{"orient":"left","values":[-5,0,5,10,15,20],"title":"SI-SDR improvement (dB)"}},
   "x":{"field":"w","type":"quantitative","stack":"center","scale":{"domain":[-0.105,0.895],"nice":false,"zero":false},"axis":{"orient":"bottom","values":[0.395],"labels":false,"title":"Model"}}}},
 {"transform":[{"filter":{"field":"q1","valid":true}}],"mark":{"type":"rule","color":"#3f3f3f","strokeWidth":2.2},"encoding":{"x":{"datum":0.395,"type":"quantitative","axis":{"orient":"top","labels":false,"ticks":false,"title":null}},"y":{"field":"lo","type":"quantitative","axis":null},"y2":{"field":"hi"}}},
 {"transform":[{"filter":{"field":"q1","valid":true}}],"mark":{"type":"rule","color":"#3f3f3f","strokeWidth":7,"strokeCap":"butt"},"encoding":{"x":{"datum":0.395,"type":"quantitative","axis":null},"y":{"field":"q1","type":"quantitative","axis":null},"y2":{"field":"q3"}}},
 {"transform":[{"filter":{"field":"q1","valid":true}}],"mark":{"type":"point","filled":true,"color":"white","opacity":1,"size":10},"encoding":{"x":{"datum":0.395,"type":"quantitative","axis":null},"y":{"field":"md","type":"quantitative","axis":null}}}]},
{"width":90,"height":275,"title":"Respiratory Support Noise - SI-SDRi","transform":[{"filter":"datum.p==='f'&&datum.m==='NMF'"}],"resolve":{"axis":{"x":"independent","y":"independent"}},"layer":[
 {"transform":[{"filter":{"field":"w","valid":true}}],"mark":{"type":"area","orient":"horizontal","interpolate":"monotone","fill":"#e1812c","fillOpacity":1,"stroke":"#3f3f3f","strokeWidth":2},
  "encoding":{"y":{"field":"v","type":"quantitative","scale":{"domain":[-8.4,23.0],"nice":false,"zero":false},"axis":null},
   "x":{"field":"w","type":"quantitative","stack":"center","scale":{"domain":[-0.095,0.905],"nice":false,"zero":false},"axis":{"orient":"bottom","values":[0.405],"labels":false,"title":"NMF"}}}},
 {"transform":[{"filter":{"field":"q1","valid":true}}],"mark":{"type":"rule","color":"#3f3f3f","strokeWidth":2.2},"encoding":{"x":{"datum":0.405,"type":"quantitative","axis":{"orient":"top","labels":false,"ticks":false,"title":null}},"y":{"field":"lo","type":"quantitative","axis":null},"y2":{"field":"hi"}}},
 {"transform":[{"filter":{"field":"q1","valid":true}}],"mark":{"type":"rule","color":"#3f3f3f","strokeWidth":7,"strokeCap":"butt"},"encoding":{"x":{"datum":0.405,"type":"quantitative","axis":null},"y":{"field":"q1","type":"quantitative","axis":null},"y2":{"field":"q3"}}},
 {"transform":[{"filter":{"field":"q1","valid":true}}],"mark":{"type":"point","filled":true,"color":"white","opacity":1,"size":10},"encoding":{"x":{"datum":0.405,"type":"quantitative","axis":null},"y":{"field":"md","type":"quantitative","axis":null}}}]},
{"width":90,"height":275,"transform":[{"filter":"datum.p==='f'&&datum.m==='NMCF'"}],"resolve":{"axis":{"x":"independent","y":"independent"}},"layer":[
 {"transform":[{"filter":{"field":"w","valid":true}}],"mark":{"type":"area","orient":"horizontal","interpolate":"monotone","fill":"#3a923a","fillOpacity":1,"stroke":"#3f3f3f","strokeWidth":2},
  "encoding":{"y":{"field":"v","type":"quantitative","scale":{"domain":[-8.4,23.0],"nice":false,"zero":false},"axis":{"orient":"right","labels":false,"ticks":false,"title":null}},
   "x":{"field":"w","type":"quantitative","stack":"center","scale":{"domain":[-0.105,0.895],"nice":false,"zero":false},"axis":{"orient":"bottom","values":[0.395],"labels":false,"title":"NMCF"}}}},
 {"transform":[{"filter":{"field":"q1","valid":true}}],"mark":{"type":"rule","color":"#3f3f3f","strokeWidth":2.2},"encoding":{"x":{"datum":0.395,"type":"quantitative","axis":{"orient":"top","labels":false,"ticks":false,"title":null}},"y":{"field":"lo","type":"quantitative","axis":null},"y2":{"field":"hi"}}},
 {"transform":[{"filter":{"field":"q1","valid":true}}],"mark":{"type":"rule","color":"#3f3f3f","strokeWidth":7,"strokeCap":"butt"},"encoding":{"x":{"datum":0.395,"type":"quantitative","axis":null},"y":{"field":"q1","type":"quantitative","axis":null},"y2":{"field":"q3"}}},
 {"transform":[{"filter":{"field":"q1","valid":true}}],"mark":{"type":"point","filled":true,"color":"white","opacity":1,"size":10},"encoding":{"x":{"datum":0.395,"type":"quantitative","axis":null},"y":{"field":"md","type":"quantitative","axis":null}}}]}
]
}
